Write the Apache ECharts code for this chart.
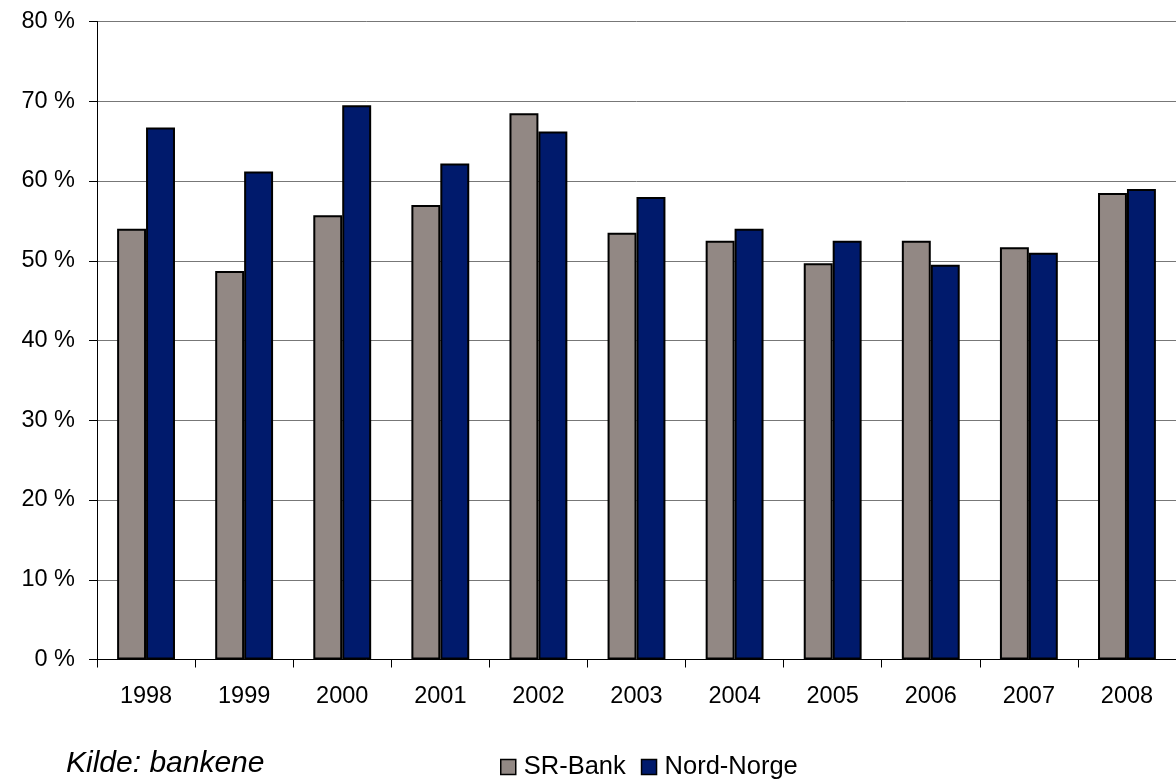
<!DOCTYPE html>
<html>
<head>
<meta charset="utf-8">
<script src="https://cdn.jsdelivr.net/npm/echarts@6/dist/echarts.min.js"></script>
<style>
html,body{margin:0;padding:0;background:#fff;overflow:hidden;}
#chart{width:1176px;height:780px;}
</style>
</head>
<body>
<div id="chart"></div>
<script>
const years = ['1998','1999','2000','2001','2002','2003','2004','2005','2006','2007','2008'];
const srBank = [54.0, 48.7, 55.7, 57.0, 68.5, 53.5, 52.5, 49.7, 52.5, 51.7, 58.5];
const nordNorge = [66.7, 61.2, 69.5, 62.2, 66.2, 58.0, 54.0, 52.5, 49.5, 51.0, 59.0];
const seriesNames = ['SR-Bank', 'Nord-Norge'];
const sourceText = 'Kilde: bankene';

const FONT = '"Liberation Sans", Arial, sans-serif';
const chart = echarts.init(document.getElementById('chart'), null, {renderer: 'canvas'});
chart.setOption({
  animation: false,
  backgroundColor: '#ffffff',
  grid: {left: 97, right: -18, top: 21.5, bottom: 120.5, containLabel: false},
  xAxis: {
    type: 'category',
    data: years,
    boundaryGap: true,
    axisLine: {show: true, lineStyle: {color: '#000', width: 1}},
    axisTick: {show: true, length: 8, lineStyle: {color: '#000', width: 1}},
    axisLabel: {color: '#000', fontSize: 23.5, fontFamily: FONT, margin: 25, interval: 0},
    splitLine: {show: false}
  },
  yAxis: {
    type: 'value',
    min: 0, max: 80, interval: 10,
    axisLine: {show: true, lineStyle: {color: '#000', width: 1}},
    axisTick: {show: true, length: 8, lineStyle: {color: '#000', width: 1}},
    axisLabel: {color: '#000', fontSize: 23.5, fontFamily: FONT, margin: 22, formatter: '{value} %'},
    splitLine: {show: true, lineStyle: {color: '#777777', width: 1}}
  },
  legend: {
    left: 495, top: 749,
    itemWidth: 15, itemHeight: 15, itemGap: 15,
    icon: 'rect',
    itemStyle: {borderColor: '#000', borderWidth: 1.5},
    textStyle: {color: '#000', fontSize: 25.5, fontFamily: FONT, padding: [0, 0, 0, 3]},
    data: seriesNames
  },
  graphic: [{
    type: 'text', left: 66, top: 749,
    style: {text: sourceText, font: 'italic 30px ' + FONT, fill: '#000'}
  }],
  series: [
    {name: seriesNames[0], type: 'bar', data: srBank, barGap: '0%', barCategoryGap: '41%',
     itemStyle: {color: '#928884', borderColor: '#000', borderWidth: 2}},
    {name: seriesNames[1], type: 'bar', data: nordNorge, barGap: '0%', barCategoryGap: '41%',
     itemStyle: {color: '#001A6C', borderColor: '#000', borderWidth: 2}}
  ]
});
</script>
</body>
</html>
